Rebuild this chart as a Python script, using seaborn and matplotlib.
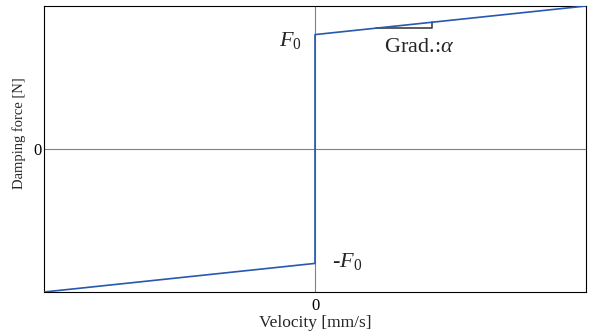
import numpy as np
import pandas as pd
import matplotlib
matplotlib.use("Agg")
import matplotlib.pyplot as plt
import seaborn as sns

velocity = [-1.0, 0.0, 0.0, 1.0]
force = [-1.0, -0.8, 0.8, 1.0]
grad_x = [0.226, 0.433, 0.433]
grad_y = [0.845, 0.845, 0.887]

sns.set_style("white")
plt.rcParams['font.family'] = ['Liberation Serif', 'DejaVu Serif']
plt.rcParams['mathtext.fontset'] = 'custom'
plt.rcParams['mathtext.rm'] = 'Liberation Serif'
plt.rcParams['mathtext.it'] = 'Liberation Serif:italic'

fig = plt.figure(figsize=(5.91, 3.34), dpi=100)
ax = fig.add_axes([44/591, 1-292/334, 542/591, 286/334])

ax.axhline(0, color='#808080', lw=0.8, zorder=1)
ax.axvline(0, color='#808080', lw=0.8, zorder=1)

df = pd.DataFrame({'v': velocity, 'f': force})
sns.lineplot(data=df, x='v', y='f', sort=False, estimator=None,
             color='#2858b0', lw=1.2, ax=ax, zorder=3)
ax.plot(grad_x, grad_y, color='#404040', lw=1.2, zorder=2)

ax.set_xlim(-1, 1)
ax.set_ylim(-1, 1)
ax.set_xticks([0])
ax.set_yticks([0])
ax.set_xticklabels(['0'], fontsize=12)
ax.set_yticklabels(['0'], fontsize=12)
ax.tick_params(axis='both', length=3, width=0.8, direction='in', pad=2, colors='black')
ax.tick_params(axis='x', pad=4)
ax.set_xlabel('Velocity [mm/s]', fontsize=12.5, labelpad=1)
ax.set_ylabel('Damping force [N]', fontsize=10.5)
ax.yaxis.set_label_coords(-0.034, 0.556)
for s in ax.spines.values():
    s.set_color('black')
    s.set_linewidth(0.8)

ax.text(-0.048, 0.76, '$F_0$', fontsize=16, ha='right', va='center')
ax.text(0.063, -0.79, '-$F_0$', fontsize=16, ha='left', va='center')
ax.text(0.255, 0.713, r'Grad.:$\alpha$', fontsize=16, ha='left', va='center')

fig.savefig('out.png', dpi=100)
